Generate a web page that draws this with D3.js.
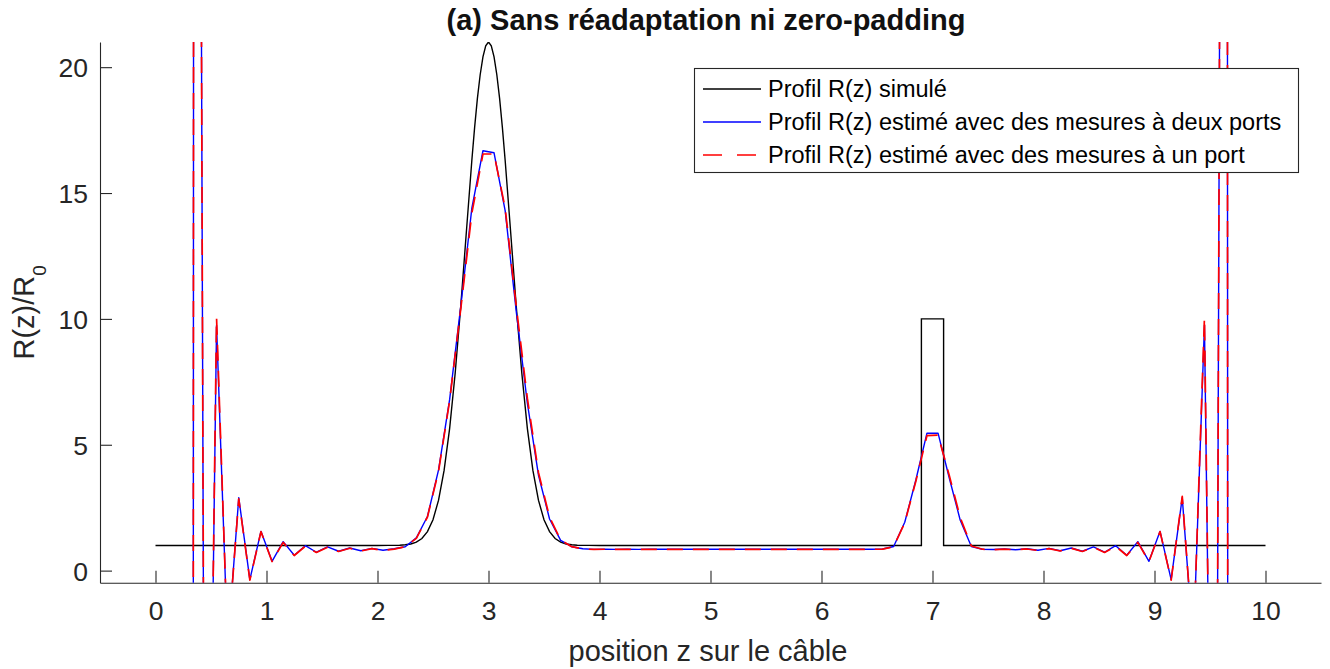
<!DOCTYPE html>
<html>
<head>
<meta charset="utf-8">
<script src="https://cdn.jsdelivr.net/npm/d3@7"></script>
<style>
  body { margin: 0; background: #fff; }
  svg { display: block; }
  text { font-family: "Liberation Sans", Arial, Helvetica, sans-serif; }
</style>
</head>
<body>
<svg id="chart" width="1330" height="669"></svg>
<script>
// Simulated profile R(z)/R0: Gaussian bump at z = 3 and a rectangular defect between 6.9 and 7.1
const zSim = [0, 2.0, 2.1, 2.2, 2.25, 2.3, 2.35, 2.4, 2.45, 2.5, 2.55, 2.6, 2.65, 2.7, 2.75, 2.8,
  2.85, 2.875, 2.9, 2.925, 2.95, 2.975, 3.0, 3.025, 3.05, 3.075, 3.1, 3.125, 3.15, 3.2, 3.25,
  3.3, 3.35, 3.4, 3.45, 3.5, 3.55, 3.6, 3.65, 3.7, 3.75, 3.8, 3.9, 4.0, 6.9, 6.9, 7.1, 7.1, 10];
const rSim = [1, 1, 1.003, 1.01, 1.025, 1.059, 1.131, 1.275, 1.55, 2.02, 2.80, 3.98, 5.65, 7.85, 10.50, 13.42,
  16.30, 17.61, 18.76, 19.70, 20.41, 20.85, 21, 20.85, 20.41, 19.70, 18.76, 17.61, 16.30, 13.42, 10.50,
  7.85, 5.65, 3.98, 2.80, 2.02, 1.55, 1.275, 1.131, 1.059, 1.025, 1.01, 1.003, 1, 1, 10, 10, 1, 1];

// Sample positions of the estimated profiles
const zEst = [0.05, 0.15, 0.25, 0.35, 0.45, 0.55, 0.65, 0.75, 0.85, 0.95,
  1.05, 1.15, 1.25, 1.35, 1.45, 1.55, 1.65, 1.75, 1.85, 1.95,
  2.05, 2.15, 2.25, 2.35, 2.45, 2.55, 2.65, 2.75, 2.85, 2.95,
  3.05, 3.15, 3.25, 3.35, 3.45, 3.55, 3.65, 3.75, 3.85, 3.95,
  4.05, 4.15, 4.25, 4.35, 4.45, 4.55, 4.65, 4.75, 4.85, 4.95,
  5.05, 5.15, 5.25, 5.35, 5.45, 5.55, 5.65, 5.75, 5.85, 5.95,
  6.05, 6.15, 6.25, 6.35, 6.45, 6.55, 6.65, 6.75, 6.85, 6.95,
  7.05, 7.15, 7.25, 7.35, 7.45, 7.55, 7.65, 7.75, 7.85, 7.95,
  8.05, 8.15, 8.25, 8.35, 8.45, 8.55, 8.65, 8.75, 8.85, 8.95,
  9.05, 9.15, 9.25, 9.35, 9.45, 9.55, 9.65, 9.75, 9.85, 9.95];

// Estimate from two-port measurements
const rTwoPorts = [-500, -800, -1000, 102, -24, 9.75, -3.0, 2.9, -0.36, 1.56,
  0.37, 1.15, 0.61, 0.99, 0.73, 0.94, 0.77, 0.90, 0.79, 0.885,
  0.81, 0.87, 0.95, 1.30, 2.15, 4.0, 6.8, 10.5, 14.4, 16.68,
  16.60, 14.3, 10.3, 6.65, 3.8, 2.05, 1.2, 0.95, 0.87, 0.845,
  0.855, 0.845, 0.85, 0.845, 0.85, 0.848, 0.85, 0.848, 0.85, 0.848,
  0.85, 0.848, 0.85, 0.848, 0.85, 0.848, 0.85, 0.848, 0.85, 0.848,
  0.85, 0.848, 0.85, 0.848, 0.85, 0.86, 0.96, 1.92, 3.6, 5.46,
  5.46, 3.7, 2.0, 0.96, 0.85, 0.84, 0.86, 0.83, 0.87, 0.81,
  0.885, 0.79, 0.90, 0.77, 0.94, 0.73, 0.99, 0.61, 1.15, 0.37,
  1.56, -0.36, 2.9, -3.0, 9.75, -24, 102, -1000, -800, -500];

// Estimate from one-port measurements
const rOnePort = [-500, -800, -1000, 102, -24, 10.05, -3.0, 2.85, -0.38, 1.55,
  0.36, 1.12, 0.60, 0.97, 0.72, 0.93, 0.76, 0.89, 0.78, 0.875,
  0.80, 0.855, 0.95, 1.28, 2.13, 3.95, 6.75, 10.4, 14.2, 16.55,
  16.55, 14.4, 10.5, 6.85, 3.9, 2.12, 1.22, 0.95, 0.86, 0.84,
  0.85, 0.84, 0.845, 0.84, 0.845, 0.843, 0.845, 0.843, 0.845, 0.843,
  0.845, 0.843, 0.845, 0.843, 0.845, 0.843, 0.845, 0.843, 0.845, 0.843,
  0.845, 0.843, 0.845, 0.843, 0.845, 0.855, 0.95, 1.90, 3.55, 5.36,
  5.38, 3.8, 2.1, 0.98, 0.85, 0.835, 0.855, 0.825, 0.86, 0.80,
  0.875, 0.78, 0.89, 0.76, 0.93, 0.72, 0.97, 0.60, 1.12, 0.36,
  1.55, -0.38, 2.95, -3.0, 10.05, -24, 102, -1000, -800, -500];

const xTicks = [0, 1, 2, 3, 4, 5, 6, 7, 8, 9, 10];
const yTicks = [0, 5, 10, 15, 20];
const legendLabels = [
  "Profil R(z) simulé",
  "Profil R(z) estimé avec des mesures à deux ports",
  "Profil R(z) estimé avec des mesures à un port"
];

const svg = d3.select("#chart");
const box = { left: 100, right: 1321, top: 42, bottom: 582.7 };
const axisColor = "#262626";

const x = d3.scaleLinear().domain([-0.5, 10.5]).range([box.left, box.right]);
const y = d3.scaleLinear().domain([-0.48, 21]).range([box.bottom, box.top]);

svg.append("defs").append("clipPath").attr("id", "plot-area")
  .append("rect")
  .attr("x", box.left).attr("y", box.top)
  .attr("width", box.right - box.left).attr("height", box.bottom - box.top);

// Axes (ticks pointing inward)
const gx = svg.append("g")
  .attr("transform", `translate(0,${box.bottom})`)
  .style("color", axisColor)
  .call(d3.axisBottom(x).tickValues(xTicks).tickFormat(d3.format("d"))
    .tickSizeInner(-12).tickSizeOuter(0).tickPadding(18.5));
const gy = svg.append("g")
  .attr("transform", `translate(${box.left},0)`)
  .style("color", axisColor)
  .call(d3.axisLeft(y).tickValues(yTicks).tickFormat(d3.format("d"))
    .tickSizeInner(-12).tickSizeOuter(0).tickPadding(12));
[gx, gy].forEach(g => {
  g.attr("font-family", null).attr("font-size", null);
  g.selectAll("path, line").attr("stroke-width", 1.1);
  g.selectAll("text").style("font-size", "26.5px").attr("fill", axisColor);
});
gy.selectAll("text").attr("dy", "0.36em");

// Curves
const line = d3.line().x(d => x(d[0])).y(d => y(d[1]));
const plot = svg.append("g").attr("clip-path", "url(#plot-area)");

plot.append("path")
  .datum(zSim.map((z, i) => [z, rSim[i]]))
  .attr("d", line).attr("fill", "none")
  .attr("stroke", "#000").attr("stroke-width", 1.4);

plot.append("path")
  .datum(zEst.map((z, i) => [z, rTwoPorts[i]]))
  .attr("d", line).attr("fill", "none")
  .attr("stroke", "#0000ff").attr("stroke-width", 1.4)
  .attr("stroke-linejoin", "round");

plot.append("path")
  .datum(zEst.map((z, i) => [z, rOnePort[i]]))
  .attr("d", line).attr("fill", "none")
  .attr("stroke", "#ff0000").attr("stroke-width", 1.7)
  .attr("stroke-dasharray", "16,10")
  .attr("stroke-linejoin", "round");

// Title and axis labels
svg.append("text")
  .attr("x", 706).attr("y", 30)
  .attr("text-anchor", "middle")
  .style("font-size", "29px").style("font-weight", "bold")
  .attr("fill", "#111")
  .text("(a) Sans réadaptation ni zero-padding");

svg.append("text")
  .attr("x", 708).attr("y", 661)
  .attr("text-anchor", "middle")
  .style("font-size", "29px")
  .attr("fill", axisColor)
  .text("position z sur le câble");

const yLabel = svg.append("text")
  .attr("transform", `translate(33.5,${(box.top + box.bottom) / 2}) rotate(-90)`)
  .attr("text-anchor", "middle")
  .style("font-size", "29px")
  .attr("fill", axisColor);
yLabel.append("tspan").text("R(z)/R");
yLabel.append("tspan").attr("dy", 12).style("font-size", "19px").text("0");

// Legend
const legend = svg.append("g");
legend.append("rect")
  .attr("x", 694.5).attr("y", 68.5)
  .attr("width", 604).attr("height", 104)
  .attr("fill", "#fff").attr("stroke", axisColor).attr("stroke-width", 1.1);

const legendStyles = [
  { color: "#000", width: 1.4, dash: null },
  { color: "#0000ff", width: 1.4, dash: null },
  { color: "#ff0000", width: 1.7, dash: "19,15" }
];
legendLabels.forEach((label, i) => {
  const cy = 89 + i * 33;
  legend.append("line")
    .attr("x1", 703).attr("x2", 761).attr("y1", cy).attr("y2", cy)
    .attr("stroke", legendStyles[i].color)
    .attr("stroke-width", legendStyles[i].width)
    .attr("stroke-dasharray", legendStyles[i].dash);
  legend.append("text")
    .attr("x", 768).attr("y", cy).attr("dy", "0.35em")
    .style("font-size", "23.5px")
    .attr("fill", "#000")
    .text(label);
});
</script>
</body>
</html>
